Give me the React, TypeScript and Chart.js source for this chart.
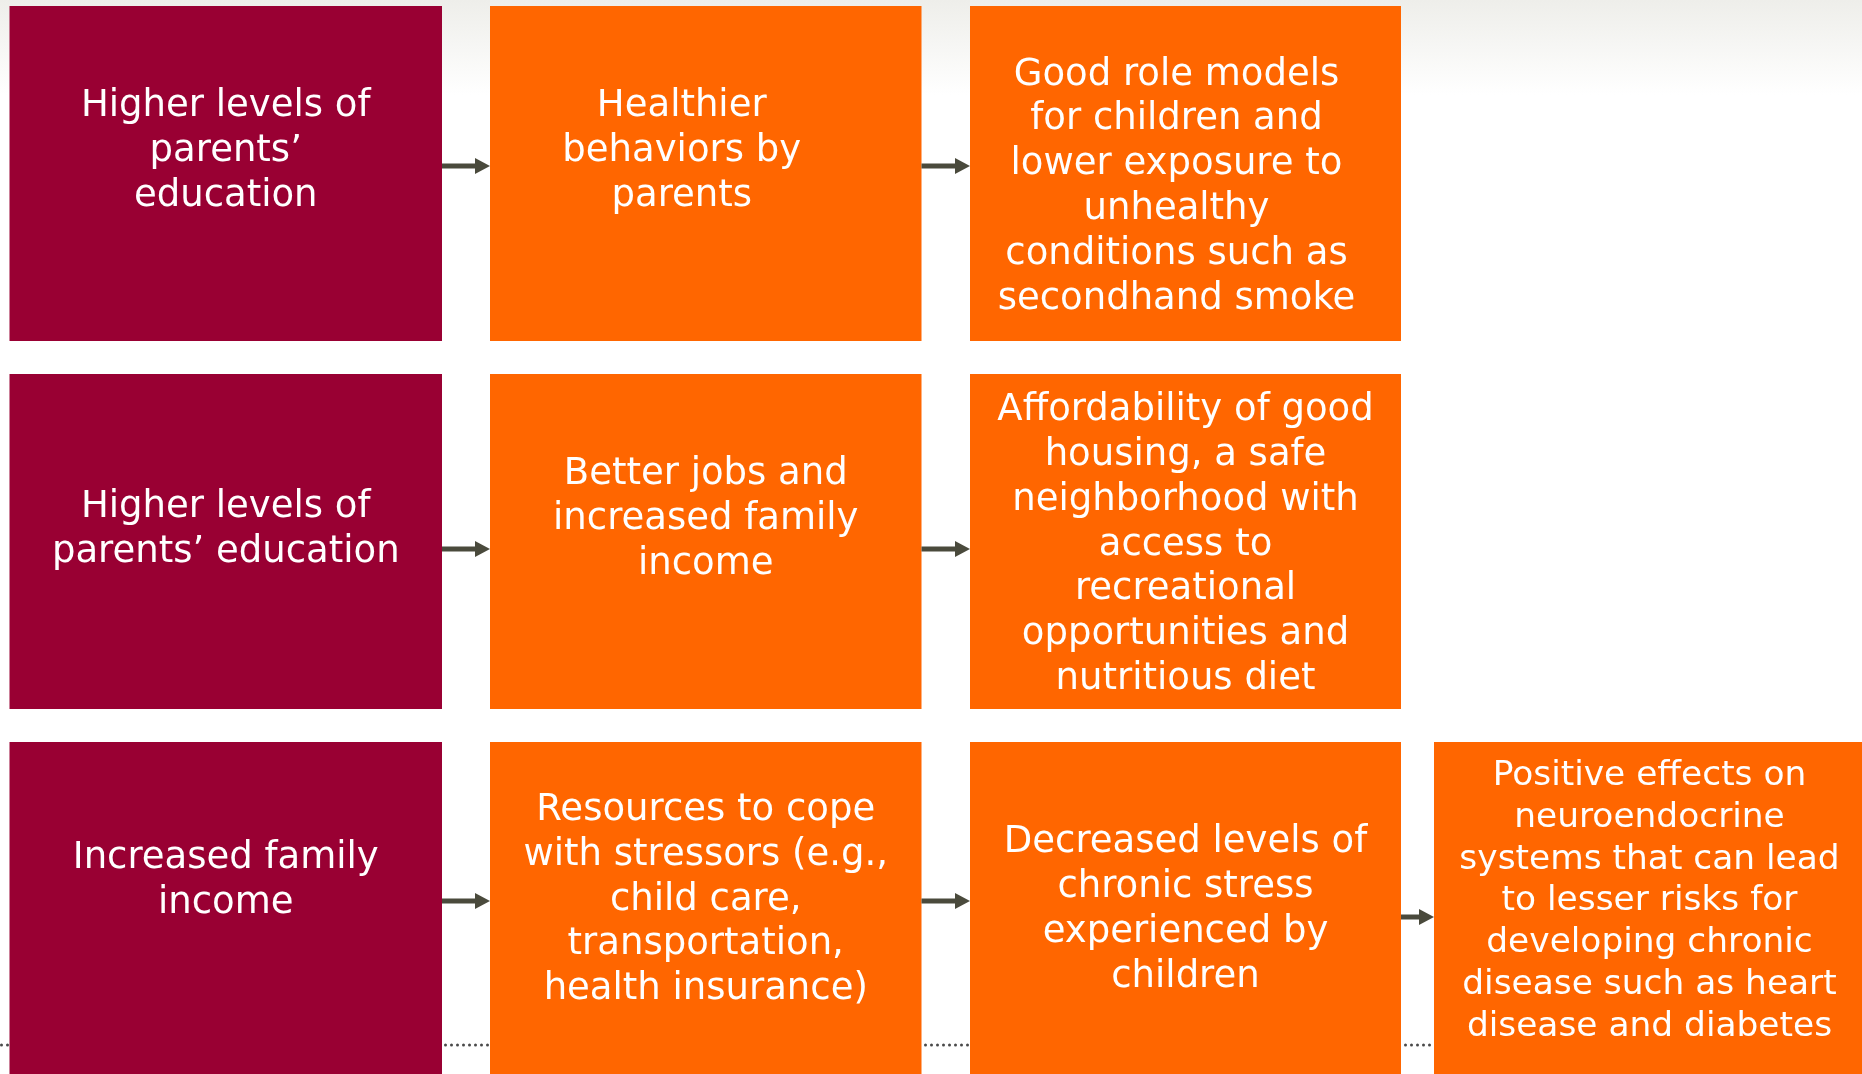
import { useEffect, useRef } from "react";
import { Chart, registerables } from "chart.js";

Chart.register(...registerables);

// ---------- DATA ----------
const boxText: string[][] = [
  ["Higher levels of", "parents’", "education"],
  ["Healthier", "behaviors by", "parents"],
  ["Good role models", "for children and", "lower exposure to", "unhealthy", "conditions such as", "secondhand smoke"],
  ["Higher levels of", "parents’ education"],
  ["Better jobs and", "increased family", "income"],
  ["Affordability of good", "housing, a safe", "neighborhood with", "access to", "recreational", "opportunities and", "nutritious diet"],
  ["Increased family", "income"],
  ["Resources to cope", "with stressors (e.g.,", "child care,", "transportation,", "health insurance)"],
  ["Decreased levels of", "chronic stress", "experienced by", "children"],
  ["Positive effects on", "neuroendocrine", "systems that can lead", "to lesser risks for", "developing chronic", "disease such as heart", "disease and diabetes"],
];
const boxRow = [0, 0, 0, 1, 1, 1, 2, 2, 2, 2];
const boxCol = [0, 1, 2, 0, 1, 2, 0, 1, 2, 3];
const boxKind = ["cause", "effect", "effect", "cause", "effect", "effect", "cause", "effect", "effect", "effect"];

const arrowRow = [0, 0, 1, 1, 2, 2, 2];
const arrowFrom = [0, 1, 0, 1, 0, 1, 2];

// ---------- LAYOUT (diagram units on the linear scales) ----------
const X_MAX = 1862;
const Y_MAX = 1074;
const colLeft = [9.5, 490, 970, 1434];
const colRight = [442, 921.5, 1401, 1870];
const rowTop = [6, 374, 742];
const rowBottom = [341, 709, 1080];
const textCenterY = [151.5, 151.5, 187, 529.5, 519.5, 545, 881, 900, 910, 901.5];
const textShiftX = [0, -24, -9, 0, 0, 0, 0, 0, 0, 1.5];
const arrowY = [166, 166, 549, 549, 901, 901, 917];
const dottedY = 1045;

// ---------- STYLE ----------
const colors: Record<string, string> = { cause: "#990033", effect: "#FF6600" };
const arrowColor = "#4a4a3c";
const fontFamily = "'DejaVu Sans', Verdana, sans-serif";

const diagramPlugin = {
  id: "diagram",
  beforeDraw(chart: any) {
    const { ctx, width, height } = chart;
    ctx.save();
    const g = ctx.createLinearGradient(0, 0, 0, 95);
    g.addColorStop(0, "#eeeeea");
    g.addColorStop(1, "#ffffff");
    ctx.fillStyle = "#ffffff";
    ctx.fillRect(0, 0, width, height);
    ctx.fillStyle = g;
    ctx.fillRect(0, 0, width, 95);
    ctx.restore();
  },
  afterDatasetsDraw(chart: any) {
    const { ctx } = chart;
    const xs = chart.scales.x;
    const ys = chart.scales.y;
    const px = (v: number) => xs.getPixelForValue(v);
    const py = (v: number) => ys.getPixelForValue(v);
    ctx.save();

    // dotted baseline
    ctx.strokeStyle = "#4a4a4a";
    ctx.lineWidth = 3;
    ctx.lineCap = "round";
    ctx.setLineDash([0, 6]);
    ctx.beginPath();
    ctx.moveTo(px(1.5), py(dottedY));
    ctx.lineTo(px(X_MAX), py(dottedY));
    ctx.stroke();
    ctx.setLineDash([]);

    // boxes
    boxText.forEach((_, i) => {
      const x0 = px(colLeft[boxCol[i]]);
      const x1 = px(colRight[boxCol[i]]);
      const y0 = py(rowTop[boxRow[i]]);
      const y1 = py(rowBottom[boxRow[i]]);
      ctx.fillStyle = colors[boxKind[i]];
      ctx.fillRect(x0, y0, x1 - x0, y1 - y0);
    });

    // arrows
    arrowRow.forEach((_r, i) => {
      const xa = px(colRight[arrowFrom[i]]);
      const xb = px(colLeft[arrowFrom[i] + 1]);
      const y = py(arrowY[i]);
      const head = 15;
      ctx.strokeStyle = arrowColor;
      ctx.fillStyle = arrowColor;
      ctx.lineWidth = 5;
      ctx.lineCap = "butt";
      ctx.beginPath();
      ctx.moveTo(xa, y);
      ctx.lineTo(xb - head + 1, y);
      ctx.stroke();
      ctx.beginPath();
      ctx.moveTo(xb - head, y - 8);
      ctx.lineTo(xb, y);
      ctx.lineTo(xb - head, y + 8);
      ctx.closePath();
      ctx.fill();
    });

    // text
    ctx.fillStyle = "#ffffff";
    ctx.textAlign = "center";
    ctx.textBaseline = "middle";
    boxText.forEach((lines, i) => {
      const small = boxCol[i] === 3;
      const size = small ? 34.4 : 37;
      const lh = small ? 41.8 : 44.8;
      ctx.font = `${size}px ${fontFamily}`;
      const cx = (px(colLeft[boxCol[i]]) + px(Math.min(colRight[boxCol[i]], X_MAX))) / 2 + textShiftX[i];
      const cy = py(textCenterY[i]);
      const start = cy - ((lines.length - 1) * lh) / 2;
      lines.forEach((t, k) => ctx.fillText(t, cx, start + k * lh));
    });
    ctx.restore();
  },
};

export default function App() {
  const ref = useRef<HTMLCanvasElement | null>(null);
  useEffect(() => {
    document.body.style.margin = "0";
    const canvas = ref.current;
    if (!canvas) return;
    const chart = new Chart(canvas, {
      type: "scatter",
      data: { datasets: [{ data: [], pointRadius: 0 }] },
      options: {
        animation: false,
        responsive: false,
        devicePixelRatio: 1,
        layout: { padding: 0 },
        events: [],
        plugins: { legend: { display: false }, tooltip: { enabled: false } },
        scales: {
          x: { type: "linear", min: 0, max: X_MAX, display: false },
          y: { type: "linear", min: 0, max: Y_MAX, reverse: true, display: false },
        },
      },
      plugins: [diagramPlugin],
    });
    return () => chart.destroy();
  }, []);
  return (
    <div style={{ position: "fixed", left: 0, top: 0, width: X_MAX, height: Y_MAX, overflow: "hidden" }}>
      <canvas ref={ref} width={X_MAX} height={Y_MAX} style={{ display: "block" }} />
    </div>
  );
}
